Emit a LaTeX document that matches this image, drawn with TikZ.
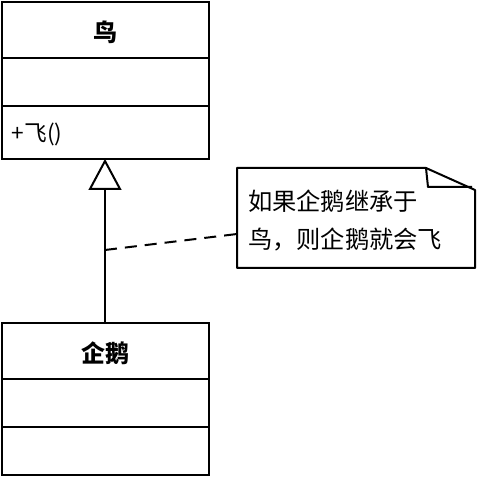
\documentclass[tikz,border=0pt]{standalone}
\usepackage{fontspec}
\setmainfont{Noto Sans CJK SC}
\begin{document}
\begin{tikzpicture}[x=0.75pt,y=-0.75pt,line width=1.5pt,
  box/.style={draw,line width=1.5pt},
  title/.style={font=\fontsize{18}{21}\selectfont\bfseries},
  member/.style={font=\fontsize{17}{20}\selectfont,anchor=west,inner sep=0pt},
  notetext/.style={font=\fontsize{18.2}{28.5}\selectfont,align=left,anchor=west,inner sep=0pt}]
\useasboundingbox (0,0) rectangle (479,477);
% class bird
\draw[box] (2,2) rectangle (209,159);
\draw (2,58) -- (209,58);
\draw (2,106) -- (209,106);
\node[title] (bird) at (105.5,32) {鸟};
\node[member] (fly) at (11,134) {+飞()};
% class penguin
\draw[box] (2,323) rectangle (209,475);
\draw (2,379) -- (209,379);
\draw (2,427) -- (209,427);
\node[title] (penguin) at (105.5,353) {企鹅};
% generalization
\coordinate (tip) at (105,161);
\coordinate (base) at (105,189);
\coordinate (bot) at (105,323);
\draw (bot) -- (base);
\draw[fill=white,line join=miter] (tip) -- (120,189) -- (90,189) -- cycle;
% note
\draw[line join=round] (237,168) -- (426,168) -- (475,190) -- (475,268) -- (237,268) -- cycle;
\draw[line join=round] (426,168) -- (428,187) -- (472,187);
\node[notetext] (note) at (247,220) {如果企鹅继承于\\鸟，则企鹅就会飞};
\coordinate (dashL) at (105,250);
\coordinate (dashR) at (237,234);
\draw[dashed,dash pattern=on 9pt off 6pt] (dashL) -- (dashR);
\end{tikzpicture}
\end{document}
